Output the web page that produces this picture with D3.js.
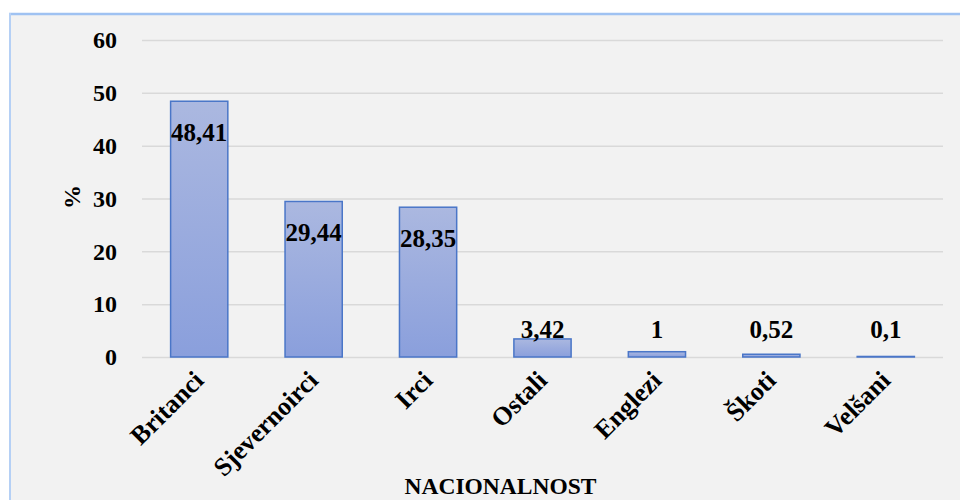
<!DOCTYPE html>
<html>
<head>
<meta charset="utf-8">
<script src="https://cdn.jsdelivr.net/npm/d3@7"></script>
<style>
  body { margin: 0; background: #fff; }
  svg { display: block; }
</style>
</head>
<body>
<svg id="chart"></svg>
<script>
// chart data
const categories = ['Britanci', 'Sjevernoirci', 'Irci', 'Ostali', 'Englezi', 'Škoti', 'Velšani'];
const values = [48.41, 29.44, 28.35, 3.42, 1, 0.52, 0.1];
const valueLabels = ['48,41', '29,44', '28,35', '3,42', '1', '0,52', '0,1'];
const yTicks = [0, 10, 20, 30, 40, 50, 60];

const W = 960, H = 500;
const margin = { top: 40, right: 17, bottom: 143, left: 142 };
const width = W - margin.left - margin.right;
const height = H - margin.top - margin.bottom;
const font = '"Liberation Serif", "Times New Roman", serif';

const svg = d3.select('#chart').attr('width', W).attr('height', H);

// panel background + light blue frame
svg.append('rect').attr('x', 10).attr('y', 14).attr('width', W).attr('height', H)
  .attr('fill', '#f2f2f2');
svg.append('line').attr('x1', 9).attr('x2', W).attr('y1', 14).attr('y2', 14)
  .attr('stroke', '#9fc2f2').attr('stroke-width', 2.5);
svg.append('line').attr('x1', 10).attr('x2', 10).attr('y1', 13).attr('y2', H)
  .attr('stroke', '#b5d0f5').attr('stroke-width', 2);

const defs = svg.append('defs');
const grad = defs.append('linearGradient').attr('id', 'barGrad')
  .attr('x1', 0).attr('y1', 0).attr('x2', 0).attr('y2', 1);
grad.append('stop').attr('offset', '0%').attr('stop-color', '#abb8e0');
grad.append('stop').attr('offset', '100%').attr('stop-color', '#8a9fdc');

const g = svg.append('g').attr('transform', `translate(${margin.left},${margin.top})`);

const x = d3.scaleBand().domain(categories).range([0, width]).paddingInner(0.5).paddingOuter(0.25);
const y = d3.scaleLinear().domain([0, 60]).range([height, 0]);

// gridlines
g.append('g')
  .call(d3.axisLeft(y).tickValues(yTicks).tickSize(-width).tickFormat(''))
  .call(a => a.select('.domain').remove())
  .call(a => a.selectAll('line').attr('stroke', '#d9d9d9').attr('stroke-width', 1.5));

// y tick labels
g.append('g')
  .call(d3.axisLeft(y).tickValues(yTicks).tickSize(0).tickPadding(25))
  .call(a => a.select('.domain').remove())
  .call(a => a.selectAll('text')
    .attr('font-family', font).attr('font-weight', 'bold')
    .attr('font-size', 24).attr('fill', '#000'));

// bars
const data = categories.map((c, i) => ({ cat: c, v: values[i], label: valueLabels[i] }));
g.selectAll('.bar').data(data).enter().append('rect')
  .attr('class', 'bar')
  .attr('x', d => x(d.cat))
  .attr('y', d => y(d.v))
  .attr('width', x.bandwidth())
  .attr('height', d => y(0) - y(d.v))
  .attr('fill', 'url(#barGrad)')
  .attr('stroke', '#4a76c8')
  .attr('stroke-width', 1.5);

// value labels
g.selectAll('.val').data(data).enter().append('text')
  .attr('class', 'val')
  .attr('x', d => x(d.cat) + x.bandwidth() / 2)
  .attr('y', d => d.v > 10 ? y(d.v) + 40 : y(Math.max(d.v, 3.42)) - 1)
  .attr('text-anchor', 'middle')
  .attr('font-family', font).attr('font-weight', 'bold')
  .attr('font-size', 25).attr('fill', '#000')
  .text(d => d.label);

// category labels
g.selectAll('.cat').data(categories).enter().append('text')
  .attr('class', 'cat')
  .attr('transform', d => `translate(${x(d) + x.bandwidth() / 2 + 6},${height + 25}) rotate(-45)`)
  .attr('text-anchor', 'end')
  .attr('font-family', font).attr('font-weight', 'bold')
  .attr('font-size', 26).attr('fill', '#000')
  .text(d => d);

// axis titles
svg.append('text')
  .attr('x', margin.left + width / 2 - 42).attr('y', 494)
  .attr('text-anchor', 'middle')
  .attr('font-family', font).attr('font-weight', 'bold')
  .attr('font-size', 23.5).attr('fill', '#000')
  .text('NACIONALNOST');

svg.append('text')
  .attr('transform', 'translate(80,197) rotate(-90)')
  .attr('text-anchor', 'middle')
  .attr('font-family', font).attr('font-weight', 'bold')
  .attr('font-size', 24).attr('fill', '#000')
  .text('%');
</script>
</body>
</html>
